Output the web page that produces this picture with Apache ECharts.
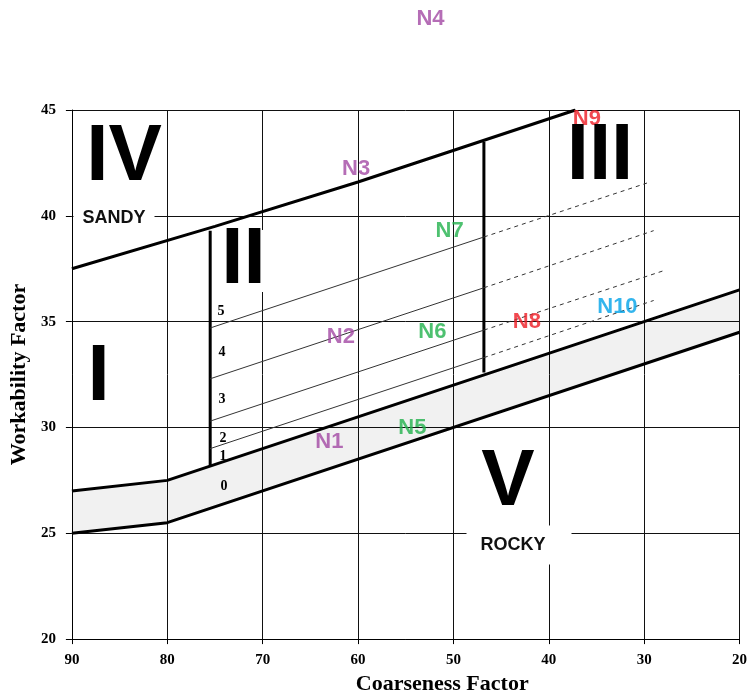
<!DOCTYPE html>
<html><head><meta charset="utf-8">
<script src="https://cdn.jsdelivr.net/npm/echarts@6/dist/echarts.min.js"></script>
<style>html,body{margin:0;padding:0;background:#fff}#c{width:750px;height:700px}</style>
</head><body><div id="c"></div>
<script>
// ---- data ----
const bandUpper = [[90, 27.0], [80, 27.5], [20, 36.5]];
const bandLower = [[90, 25.0], [80, 25.5], [20, 34.5]];
const topBoundary = [[90, 37.5], [75, 39.5], [60, 41.6], [37.2, 45.0]];
const zoneIIDivider = [[75.5, 28.2], [75.5, 39.3]];
const zoneIIIDivider = [[46.8, 32.6], [46.8, 43.5]];
const subLine1 = [[75.5, 29.0], [46.8, 33.3]];
const subLine2 = [[75.5, 30.3], [46.8, 34.6]];
const subLine3 = [[75.5, 32.3], [46.8, 36.6]];
const subLine4 = [[75.5, 34.7], [46.8, 39.0]];
const subLine1Ext = [[46.8, 33.3], [29.0, 36.0]];
const subLine2Ext = [[46.8, 34.6], [28.0, 37.4]];
const subLine3Ext = [[46.8, 36.6], [29.0, 39.3]];
const subLine4Ext = [[46.8, 39.0], [29.7, 41.55]];
const sampleNames = ['N1', 'N2', 'N3', 'N4', 'N5', 'N6', 'N7', 'N8', 'N9', 'N10'];
const sampleCF = [63.0, 61.8, 60.2, 52.4, 54.3, 52.2, 50.4, 42.3, 36.0, 32.8];
const sampleWF = [29.3, 34.3, 42.2, 49.3, 30.0, 34.5, 39.3, 35.0, 44.6, 35.7];
const sampleGroup = ['p', 'p', 'p', 'p', 'g', 'g', 'g', 'r', 'r', 'b'];
const zoneNames = ['IV', 'II', 'III', 'I', 'V'];
const subZoneNames = ['5', '4', '3', '2', '1', '0'];

// ---- styles ----
const groupColors = { p: '#a349a4', g: '#22b14c', r: '#ed1c24', b: '#00a2e8' };
const serif = '"Liberation Serif", "Times New Roman", serif';
const sans = '"Liberation Sans", Arial, sans-serif';

const chart = echarts.init(document.getElementById('c'));

function lineSeries(data, width, color, type) {
  return {
    type: 'line', data: data, symbol: 'none', silent: true, z: 3,
    lineStyle: { width: width, color: color, type: type || 'solid' },
    animation: false
  };
}

const series = [];
series.push({
  type: 'custom', silent: true, z: 1, data: [[50, 30]],
  renderItem: function (params, api) {
    const pts = bandUpper.map(p => api.coord(p))
      .concat(bandLower.slice().reverse().map(p => api.coord(p)));
    return { type: 'polygon', shape: { points: pts }, style: { fill: 'rgba(0,0,0,0.055)' } };
  }
});
series.push(lineSeries(bandUpper, 3, '#000'));
series.push(lineSeries(bandLower, 3, '#000'));
series.push(lineSeries(topBoundary, 3, '#000'));
series.push(lineSeries(zoneIIDivider, 3, '#000'));
series.push(lineSeries(zoneIIIDivider, 3, '#000'));
[subLine1, subLine2, subLine3, subLine4].forEach(d => series.push(lineSeries(d, 1, '#333')));
[subLine1Ext, subLine2Ext, subLine3Ext, subLine4Ext].forEach(d => series.push(lineSeries(d, 1, '#333', [4, 4])));

Object.keys(groupColors).forEach(g => {
  const pts = [];
  sampleNames.forEach((n, i) => { if (sampleGroup[i] === g) pts.push({ name: n, value: [sampleCF[i], sampleWF[i]] }); });
  series.push({
    type: 'scatter', data: pts, symbolSize: 1, clip: false, silent: true, z: 5,
    itemStyle: { color: 'rgba(0,0,0,0)' },
    label: {
      show: true, position: 'inside', formatter: '{b}',
      color: groupColors[g], fontFamily: sans, fontWeight: 'bold', fontSize: 22
    }
  });
});

const zonePos = [[124, 158], [243.5, 261], [600, 156.5], [98.5, 378], [508, 483]];
const graphics = [];
zoneNames.forEach((t, i) => {
  const boxed = t === 'II';
  graphics.push({
    type: 'text', x: zonePos[i][0], y: zonePos[i][1], z: 50,
    style: {
      text: t, align: 'center', verticalAlign: 'middle',
      font: 'bold 80px ' + sans, fill: '#000',
      lineHeight: boxed ? 62 : 80,
      backgroundColor: boxed ? '#fff' : 'transparent', padding: boxed ? [0, 4] : 0
    }
  });
});
graphics.push({
  type: 'text', x: 114, y: 218, z: 50,
  style: { text: 'SANDY', align: 'center', verticalAlign: 'middle', font: 'bold 18px ' + sans, fill: '#111', backgroundColor: '#fff', padding: [2, 9] }
});
graphics.push({
  type: 'text', x: 519, y: 545, z: 50,
  style: { text: 'ROCKY', align: 'center', verticalAlign: 'middle', font: 'bold 18px ' + sans, fill: '#111', backgroundColor: '#fff', padding: [6, 26, 15, 14] }
});
const subPos = [[221, 311], [222, 352], [222, 399], [223, 438], [223, 456], [224, 486]];
subZoneNames.forEach((t, i) => {
  graphics.push({
    type: 'text', x: subPos[i][0], y: subPos[i][1], z: 50,
    style: { text: t, align: 'center', verticalAlign: 'middle', font: 'bold 14px ' + serif, fill: '#000' }
  });
});

chart.setOption({
  animation: false,
  backgroundColor: '#fff',
  grid: { left: 70, right: 6, top: 110, bottom: 56, containLabel: false },
  xAxis: {
    type: 'value', min: 20, max: 90, interval: 10, inverse: true,
    name: 'Coarseness Factor', nameLocation: 'middle', nameGap: 32,
    nameTextStyle: { fontFamily: serif, fontWeight: 'bold', fontSize: 22, color: '#000', padding: [0, 0, 0, 73] },
    axisLine: { show: true, lineStyle: { color: '#000', width: 1 } },
    axisTick: { show: true, length: 5, lineStyle: { color: '#000' } },
    axisLabel: { margin: 14, fontFamily: serif, fontWeight: 'bold', fontSize: 15, color: '#000' },
    splitLine: { show: true, lineStyle: { color: '#111', width: 1 } }
  },
  yAxis: {
    type: 'value', min: 20, max: 45, interval: 5,
    name: 'Workability Factor', nameLocation: 'middle', nameGap: 35,
    nameTextStyle: { fontFamily: serif, fontWeight: 'bold', fontSize: 22, color: '#000' },
    axisLine: { show: true, lineStyle: { color: '#000', width: 1 } },
    axisTick: { show: true, length: 6, lineStyle: { color: '#000' } },
    axisLabel: { margin: 16, fontFamily: serif, fontWeight: 'bold', fontSize: 15, color: '#000' },
    splitLine: { show: true, lineStyle: { color: '#111', width: 1 } }
  },
  series: series,
  graphic: graphics
});
</script></body></html>
